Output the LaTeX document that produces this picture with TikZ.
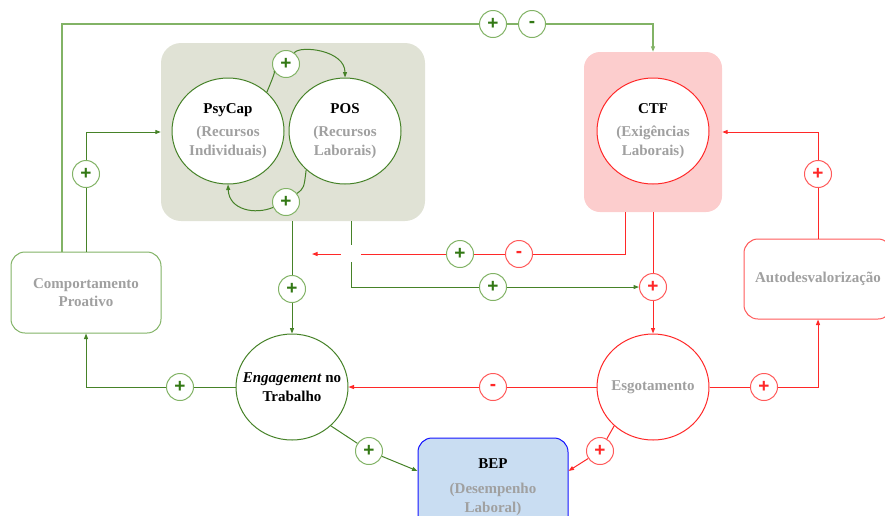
\documentclass[tikz,border=0pt]{standalone}
\usepackage{fontspec}
\setmainfont{Liberation Serif}
\setsansfont{Liberation Sans}
\usetikzlibrary{arrows.meta,shapes.geometric}

\definecolor{dkgreen}{RGB}{70,130,40}
\definecolor{ltgreen}{RGB}{130,179,102}
\definecolor{signgreen}{RGB}{50,120,20}
\definecolor{redline}{RGB}{255,40,40}
\definecolor{redsign}{RGB}{255,90,90}
\definecolor{grpfill}{RGB}{224,226,213}
\definecolor{ctffill}{RGB}{252,205,205}
\definecolor{bepfill}{RGB}{201,221,242}
\definecolor{bepblue}{RGB}{20,20,255}
\definecolor{txtgray}{RGB}{160,160,160}

\begin{document}
\begin{tikzpicture}[x=1pt,y=-1pt,
  every node/.style={font=\fontsize{15}{18.5}\selectfont\bfseries, align=center, text=txtgray},
  hub/.style={ellipse, draw, fill=white, minimum width=112pt, minimum height=106pt, inner sep=-14pt, line width=1pt},
  box/.style={rectangle, rounded corners=14pt, draw, fill=white, line width=1pt, inner sep=0pt},
  gl/.style={draw=dkgreen, line width=1pt},
  lgl/.style={draw=ltgreen, line width=1.2pt},
  rl/.style={draw=redline, line width=1pt},
  arr/.style={-{Triangle[length=5.5pt,width=4pt]}},
  sign/.style={circle, draw, fill=white, minimum size=27pt, inner sep=0pt, line width=1pt, font=\fontsize{19}{19}\selectfont\sffamily\bfseries},
  gs/.style={sign, draw=ltgreen, text=signgreen},
  rs/.style={sign, draw=redsign, text=redline},
]
\useasboundingbox (0,0) rectangle (885,515);
\clip (0,0) rectangle (885,515);

% resource group and demands group
\node[rectangle, rounded corners=20pt, fill=grpfill, minimum width=264pt, minimum height=178pt] (grp) at (293,132) {};
\node[rectangle, rounded corners=16pt, fill=ctffill, minimum width=138pt, minimum height=160pt] (ctfbox) at (653,132) {};

% main variables
\node[hub, draw=dkgreen] (psy) at (228,131) {\textcolor{black}{PsyCap}\\[5pt](Recursos\\Individuais)};
\node[hub, draw=dkgreen] (pos) at (345,131) {\textcolor{black}{POS}\\[5pt](Recursos\\Laborais)};
\node[hub, draw=redline] (ctf) at (653,131) {\textcolor{black}{CTF}\\[5pt](Exigências\\Laborais)};
\node[hub, draw=dkgreen] (eng) at (292,387) {\textcolor{black}{\textit{Engagement} no}\\\textcolor{black}{Trabalho}};
\node[hub, draw=redline] (esg) at (653,387) {Esgotamento};
\node[box, draw=ltgreen, minimum width=150pt, minimum height=81pt] (comp) at (86,292.5) {Comportamento\\Proativo};
\node[box, draw=redsign, minimum width=148pt, minimum height=80pt] (auto) at (818,279) {Autodesvalorização};
\node[box, draw=bepblue, fill=bepfill, minimum width=150pt, minimum height=98pt] (bep) at (493,487) {\textcolor{black}{BEP}\\[7pt](Desempenho\\Laboral)};

% signs
\node[gs] (s1) at (493,24) {+};
\node[gs] (s2) at (532,24) {-};
\node[gs] (s3) at (286,64) {+};
\node[gs] (s4) at (286,202) {+};
\node[gs] (s5) at (86,174) {+};
\node[gs] (s6) at (292,289) {+};
\node[gs] (s7) at (493,287) {+};
\node[rs] (s8) at (653,287) {+};
\node[gs] (s9) at (460,254) {+};
\node[rs] (s10) at (519,254) {-};
\node[rs] (s11) at (818,174) {+};
\node[rs] (s12) at (764,387) {+};
\node[rs] (s13) at (493,387) {-};
\node[rs] (s14) at (600,451) {+};
\node[gs] (s15) at (180,387) {+};
\node[gs] (s16) at (369,451) {+};

% bend points
\coordinate (tl) at (62,24);
\coordinate (tr) at (653,24);
\coordinate (g1) at (351,287);
\coordinate (r1) at (625,254);
\coordinate (rend) at (312,254);
\coordinate (r2) at (818,387);

% top feedback line
\draw[lgl] (tl |- comp.north) -- (tl) -- (s1);
\draw[lgl] (s1) -- (s2);
\draw[lgl,arr] (s2) -- (tr) -- (ctfbox.north);

% proactive behaviour to resources
\draw[gl] (s5 |- comp.north) -- (s5);
\draw[gl,arr] (s5) |- (grp.west);

% PsyCap <-> POS
\draw[gl] (psy.45) .. controls (272,80) and (276,70) .. (s3);
\draw[gl,arr] (s3) .. controls (300,45) and (345,50) .. (pos.north);
\draw[gl] (pos.225) .. controls (304,188) .. (s4);
\draw[gl,arr] (s4) .. controls (255,215) and (229,210) .. (psy.south);

% resources to engagement and exhaustion
\draw[gl] (s6 |- grp.south) -- (s6);
\draw[gl,arr] (s6) -- (eng.north);
\draw[gl] (g1 |- grp.south) -- (g1) -- (s7);
\draw[gl,arr] (s7) -- (s8);

% demands
\draw[rl] (r1 |- ctfbox.south) -- (r1) -- (s10);
\draw[rl] (s10) -- (s9);
\draw[rl,arr] (s9) -- (rend);
\fill[white] (341,245) rectangle (361,262);
\draw[rl] (s8 |- ctfbox.south) -- (s8);
\draw[rl,arr] (s8) -- (esg.north);

% self-devaluation loop
\draw[rl] (s11 |- auto.north) -- (s11);
\draw[rl,arr] (s11) |- (ctfbox.east);
\draw[rl] (esg.east) -- (s12);
\draw[rl,arr] (s12) -- (r2) -- (auto.south);

% exhaustion effects
\draw[rl] (esg.west) -- (s13);
\draw[rl,arr] (s13) -- (eng.east);
\draw[rl] (esg.225) -- (s14);
\draw[rl,arr] (s14) -- (bep.12);

% engagement effects
\draw[gl] (eng.west) -- (s15);
\draw[gl,arr] (s15) -| (comp.south);
\draw[gl] (eng.315) -- (s16);
\draw[gl,arr] (s16) -- (bep.168);
\end{tikzpicture}
\end{document}
